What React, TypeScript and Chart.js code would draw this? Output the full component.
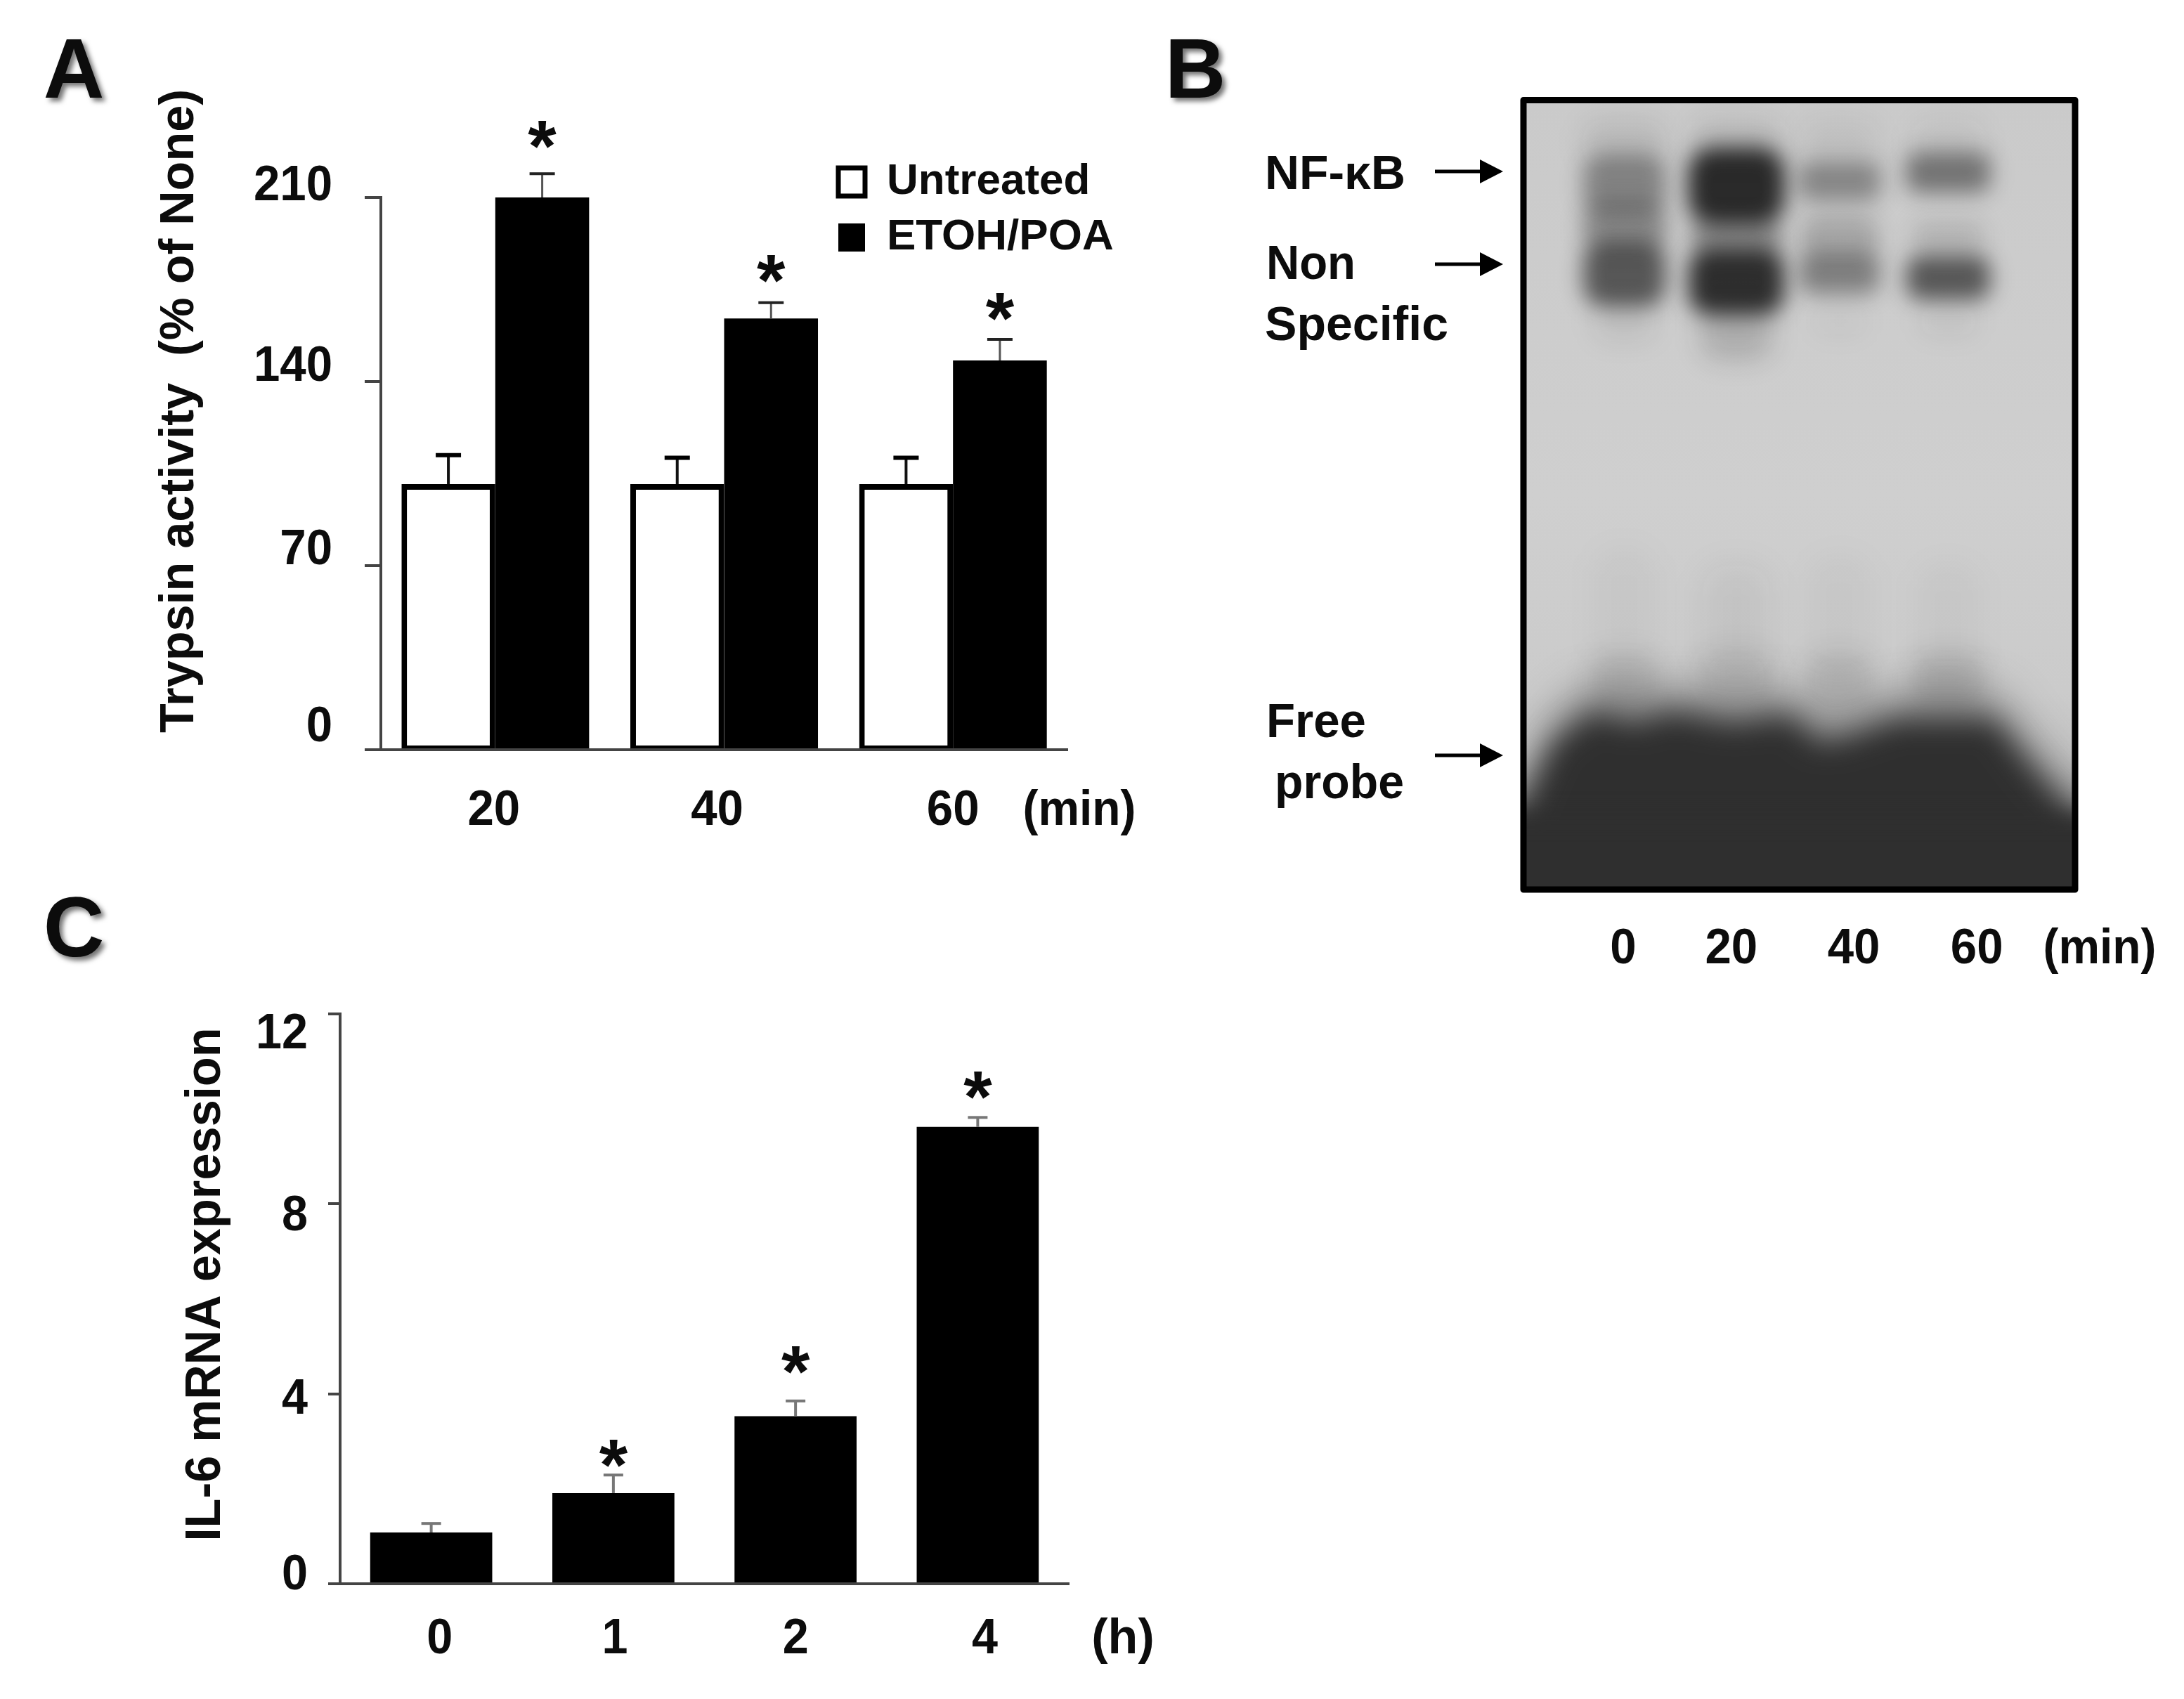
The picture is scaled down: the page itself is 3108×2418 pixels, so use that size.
import React, { useEffect, useRef } from "react";
import { Chart, registerables } from "chart.js";

Chart.register(...registerables);

const W = 3108;
const H = 2418;
const FONT = '"Liberation Sans", Arial, sans-serif';
const INK = "#0c0c0c";

// ---- Panel A data
const minutesA = ["20", "40", "60"];
const untreated = [101, 101, 101];
const untreatedTop = [112, 111, 111];
const etohPoa = [210, 164, 148];
const etohPoaTop = [219, 170, 156];
const starsA = [234, 183, 168.5];

// ---- Panel C data
const hoursC = ["0", "1", "2", "4"];
const il6 = [1.08, 1.91, 3.53, 9.62];
const il6Top = [1.27, 2.29, 3.85, 9.82];
const starsC = [null, 2.74, 4.71, 10.5];

// ---- Panel B data (gel, in percent of the frame)
const gelMinutes = ["0", "20", "40", "60"];
const gelTickPos = [17.7, 37.3, 59.5, 81.8];
const laneX = [18.3, 38.6, 57.3, 77];
const nfY = [10.7, 10.9, 10.3, 9.2];
const nfW = [15, 17.6, 15, 15.4];
const nfH = [7.6, 9.8, 5, 5.2];
const nfA = [0.38, 0.86, 0.36, 0.46];
const nsY = [22, 23, 22, 22.5];
const nsW = [15, 17.4, 14.6, 15.2];
const nsH = [8.4, 8.4, 5.2, 5.6];
const nsA = [0.62, 0.84, 0.4, 0.62];
const midY = [16, 17.4, 17.6, 17.4];
const midW = [15, 16, 14, 13];
const midH = [6, 5.5, 6, 4.5];
const midA = [0.34, 0.34, 0.2, 0.12];
const tailY = [28, 29.2, 28, 28];
const tailW = [11, 13, 9, 10];
const tailH = [5, 7.5, 3.5, 3.5];
const tailA = [0.07, 0.17, 0.04, 0.06];
const wellY = [5.5, 5.5, 5.5, 5.5];
const wellW = [15, 16, 14, 13];
const wellH = [6, 6, 6, 6];
const wellA = [0.09, 0.1, 0.06, 0.05];
const smearY = [64, 66, 65, 66];
const smearW = [10, 12, 10, 10];
const smearH = [14, 14, 14, 14];
const smearA = [0.03, 0.05, 0.03, 0.03];
const haloY = [73.5, 73, 73.5, 73.5];
const haloW = [12, 13, 12, 13];
const haloH = [7, 7, 7, 7];
const haloA = [0.13, 0.1, 0.13, 0.14];
const probeFrontX = [0, 5.3, 12.6, 20, 27, 38, 48, 54, 60, 68, 77, 85.3, 91.3, 100];
const probeFrontY = [90, 81.6, 77.5, 79, 77.5, 79, 78, 81.5, 80.5, 78.5, 78.5, 78.5, 84, 91];

// ---- Free text
const panelLetters = [
  { t: "A", x: 105, y: 97 },
  { t: "B", x: 1701, y: 97 },
  { t: "C", x: 105, y: 1319 },
];
const gelNotes = [
  { t: "NF-κB", x0: 1798, x1: 1998, y: 245 },
  { t: "Non", x0: 1800, x1: 1927, y: 374 },
  { t: "Specific", x0: 1798, x1: 2059, y: 466 },
  { t: "Free", x0: 1800, x1: 1942, y: 1026 },
  { t: "probe", x0: 1812, x1: 1996, y: 1118 },
];
const gelArrowY = [244, 376, 1075];

function put(
  ctx: CanvasRenderingContext2D,
  text: string,
  o: { x: number; y: number; size: number; sx?: number; align?: string; rotate?: number; width?: number; shadow?: boolean },
) {
  ctx.save();
  ctx.font = `bold ${o.size}px ${FONT}`;
  ctx.fillStyle = INK;
  ctx.textAlign = "left";
  ctx.textBaseline = "alphabetic";
  if (o.shadow) {
    ctx.shadowColor = "rgba(0,0,0,0.55)";
    ctx.shadowBlur = 7;
    ctx.shadowOffsetX = 5;
    ctx.shadowOffsetY = 5;
  }
  const m = ctx.measureText(text);
  const scale = o.width ? o.width / m.width : o.sx ?? 1;
  const dy = (m.actualBoundingBoxAscent - m.actualBoundingBoxDescent) / 2;
  const dx = o.align === "right" ? -m.width : o.align === "left" ? 0 : -m.width / 2;
  ctx.translate(o.x, o.y);
  if (o.rotate) ctx.rotate(o.rotate);
  ctx.scale(scale, 1);
  ctx.fillText(text, dx, dy);
  ctx.restore();
}

function place(left: number, top: number, right: number, bottom: number) {
  return {
    padding: { left: 0, top, right: W - right, bottom: 0 },
    yFit: (s: any) => { s.width = left; },
    xFit: (s: any) => { s.height = H - bottom; },
  };
}

const errorPlugin = {
  id: "errorsAndStars",
  afterDatasetsDraw(chart: any) {
    const ctx = chart.ctx;
    const y = chart.scales.y;
    chart.data.datasets.forEach((ds: any, i: number) => {
      const meta = chart.getDatasetMeta(i);
      meta.data.forEach((el: any, j: number) => {
        const top = y.getPixelForValue(ds.errorTop[j]);
        ctx.save();
        ctx.strokeStyle = ds.errorColor;
        ctx.lineWidth = ds.errorStem;
        ctx.beginPath();
        ctx.moveTo(el.x, el.y);
        ctx.lineTo(el.x, top);
        ctx.stroke();
        ctx.strokeStyle = ds.capColor;
        ctx.lineWidth = ds.capWidth;
        ctx.beginPath();
        ctx.moveTo(el.x - ds.capHalf, top);
        ctx.lineTo(el.x + ds.capHalf, top);
        ctx.stroke();
        ctx.restore();
        const s = ds.stars && ds.stars[j];
        if (s != null) put(ctx, "*", { x: el.x, y: y.getPixelForValue(s), size: 104 });
      });
    });
  },
};

function axisTextPlugin(cfg: {
  size: number;
  sx: number;
  yRight: number;
  yShift: number[];
  xY: number;
  xShift: number[];
  extra: { t: string; x: number; y: number; size: number; sx?: number; width?: number; rotate?: number }[];
}) {
  return {
    id: "axisText",
    afterDraw(chart: any) {
      const ctx = chart.ctx;
      const { x, y } = chart.scales;
      y.ticks.forEach((tk: any, i: number) => {
        put(ctx, String(tk.label), {
          x: cfg.yRight,
          y: y.getPixelForTick(i) + cfg.yShift[i],
          size: cfg.size,
          sx: cfg.sx,
          align: "right",
        });
      });
      x.ticks.forEach((tk: any, i: number) => {
        put(ctx, String(tk.label), {
          x: x.getPixelForTick(i) + cfg.xShift[i],
          y: cfg.xY,
          size: cfg.size,
          sx: cfg.sx,
        });
      });
      cfg.extra.forEach((e) => put(ctx, e.t, e));
    },
  };
}

const legendPlacement = {
  id: "legendPlacement",
  beforeDraw(chart: any) {
    const l = chart.legend;
    l.left = 1176;
    l.right = 1800;
    l.top = 211;
    l.bottom = 600;
    l.width = 624;
    l.height = 389;
  },
};

function axes(p: any, max: number, step: number, tick: number) {
  return {
    x: {
      afterFit: p.xFit,
      grid: { display: false },
      border: { display: true, color: "#444", width: 4 },
      ticks: { display: false },
    },
    y: {
      min: 0,
      max,
      afterFit: p.yFit,
      grid: { drawOnChartArea: false, drawTicks: true, tickLength: tick, color: "#444", lineWidth: 4 },
      border: { display: true, color: "#444", width: 4 },
      ticks: { display: false, stepSize: step },
    },
  };
}

function makeA(canvas: HTMLCanvasElement) {
  const p = place(542, 281, 1519, 1067);
  return new Chart(canvas, {
    type: "bar",
    data: {
      labels: minutesA,
      datasets: [
        {
          label: "Untreated",
          data: untreated,
          backgroundColor: "#ffffff",
          borderColor: "#000000",
          borderWidth: { top: 8, left: 8, right: 8, bottom: 4 },
          borderSkipped: false,
          categoryPercentage: 0.82,
          barPercentage: 1,
          errorTop: untreatedTop,
          errorColor: "#111",
          errorStem: 4,
          capColor: "#000",
          capWidth: 6,
          capHalf: 18,
        },
        {
          label: "ETOH/POA",
          data: etohPoa,
          backgroundColor: "#000000",
          borderColor: "#000000",
          borderWidth: 0,
          categoryPercentage: 0.82,
          barPercentage: 1,
          errorTop: etohPoaTop,
          errorColor: "#555",
          errorStem: 3,
          capColor: "#222",
          capWidth: 4,
          capHalf: 18,
          stars: starsA,
        },
      ] as any,
    },
    options: {
      animation: false,
      responsive: false,
      maintainAspectRatio: false,
      devicePixelRatio: 1,
      events: [],
      layout: { padding: p.padding },
      scales: axes(p, 210, 70, 23) as any,
      plugins: {
        tooltip: { enabled: false },
        title: { display: false },
        legend: {
          display: true,
          position: "chartArea" as any,
          align: "start",
          labels: {
            boxWidth: 38,
            boxHeight: 40,
            padding: 17,
            color: INK,
            font: { family: FONT, size: 62, weight: "bold" },
          },
        },
      },
    },
    plugins: [
      legendPlacement,
      errorPlugin,
      axisTextPlugin({
        size: 70,
        sx: 0.96,
        yRight: 473,
        yShift: [-37, -27, -26, -21],
        xY: 1149,
        xShift: [-2, -10, 0],
        extra: [
          { t: "Trypsin activity  (% of None)", x: 257, y: 585, size: 68, width: 916, rotate: -Math.PI / 2 },
          { t: "(min)", x: 1536, y: 1156, size: 70, sx: 0.94 },
        ],
      }),
    ] as any,
  } as any);
}

function makeC(canvas: HTMLCanvasElement) {
  const p = place(484, 1443, 1521, 2254);
  return new Chart(canvas, {
    type: "bar",
    data: {
      labels: hoursC,
      datasets: [
        {
          label: "IL-6 mRNA expression",
          data: il6,
          backgroundColor: "#000000",
          borderWidth: 0,
          categoryPercentage: 0.67,
          barPercentage: 1,
          errorTop: il6Top,
          errorColor: "#777",
          errorStem: 4,
          capColor: "#777",
          capWidth: 4,
          capHalf: 14,
          stars: starsC,
        },
      ] as any,
    },
    options: {
      animation: false,
      responsive: false,
      maintainAspectRatio: false,
      devicePixelRatio: 1,
      events: [],
      layout: { padding: p.padding },
      scales: axes(p, 12, 4, 17) as any,
      plugins: { legend: { display: false }, tooltip: { enabled: false } },
    },
    plugins: [
      errorPlugin,
      axisTextPlugin({
        size: 70,
        sx: 0.95,
        yRight: 438,
        yShift: [-17, 4, 13, 24],
        xY: 2328,
        xShift: [12, 2, 0, 10],
        extra: [
          { t: "IL-6 mRNA expression", x: 295, y: 1828, size: 70, width: 731, rotate: -Math.PI / 2 },
          { t: "(h)", x: 1598, y: 2335, size: 70 },
        ],
      }),
    ] as any,
  } as any);
}

const gelPlugin = {
  id: "gel",
  beforeDatasetsDraw(chart: any) {
    const ctx = chart.ctx as CanvasRenderingContext2D;
    const { x, y } = chart.scales;
    const a = chart.chartArea;
    ctx.save();
    ctx.beginPath();
    ctx.rect(a.left, a.top, a.right - a.left, a.bottom - a.top);
    ctx.clip();
    const g = ctx.createLinearGradient(0, a.top, 0, a.bottom);
    g.addColorStop(0, "#cacaca");
    g.addColorStop(0.5, "#cfcfcf");
    g.addColorStop(0.75, "#cbcbcb");
    g.addColorStop(1, "#b8b8b8");
    ctx.fillStyle = g;
    ctx.fillRect(a.left, a.top, a.right - a.left, a.bottom - a.top);

    chart.data.datasets.forEach((ds: any, i: number) => {
      const meta = chart.getDatasetMeta(i);
      meta.data.forEach((el: any, j: number) => {
        const w = x.getPixelForValue(ds.bandW[j]) - x.getPixelForValue(0);
        const h = Math.abs(y.getPixelForValue(ds.bandH[j]) - y.getPixelForValue(0));
        ctx.filter = `blur(${ds.blur}px)`;
        ctx.fillStyle = `rgba(15,15,15,${ds.bandA[j]})`;
        ctx.beginPath();
        ctx.roundRect(el.x - w / 2, el.y - h / 2, w, h, Math.min(w, h) / 3);
        ctx.fill();
      });
    });

    const poly = (lift: number) => {
      ctx.beginPath();
      probeFrontX.forEach((v, i) => {
        const px = x.getPixelForValue(v);
        const py = y.getPixelForValue(probeFrontY[i] - lift);
        if (i === 0) ctx.moveTo(px, py);
        else ctx.lineTo(px, py);
      });
      ctx.lineTo(x.getPixelForValue(130), y.getPixelForValue(91 - lift));
      ctx.lineTo(x.getPixelForValue(130), y.getPixelForValue(130));
      ctx.lineTo(x.getPixelForValue(-30), y.getPixelForValue(130));
      ctx.lineTo(x.getPixelForValue(-30), y.getPixelForValue(90 - lift));
      ctx.closePath();
    };
    ctx.filter = "blur(30px)";
    ctx.fillStyle = "rgba(50,50,50,0.45)";
    poly(3.5);
    ctx.fill();
    ctx.filter = "blur(20px)";
    ctx.fillStyle = "#2f2f2f";
    poly(0);
    ctx.fill();
    ctx.filter = "blur(16px)";
    ctx.fillStyle = "#2f2f2f";
    ctx.fillRect(a.left - 60, y.getPixelForValue(91), a.right - a.left + 120, a.bottom - y.getPixelForValue(91) + 60);
    ctx.filter = "none";
    ctx.restore();
  },
  afterDraw(chart: any) {
    const ctx = chart.ctx as CanvasRenderingContext2D;
    const { x } = chart.scales;
    const a = chart.chartArea;
    ctx.save();
    ctx.strokeStyle = "#000";
    ctx.lineWidth = 9;
    ctx.lineJoin = "round";
    ctx.strokeRect(a.left, a.top, a.right - a.left, a.bottom - a.top);
    gelArrowY.forEach((yy) => {
      ctx.lineWidth = 5;
      ctx.beginPath();
      ctx.moveTo(2042, yy);
      ctx.lineTo(2110, yy);
      ctx.stroke();
      ctx.fillStyle = "#000";
      ctx.beginPath();
      ctx.moveTo(2139, yy);
      ctx.lineTo(2106, yy - 17);
      ctx.lineTo(2106, yy + 17);
      ctx.closePath();
      ctx.fill();
    });
    ctx.restore();
    gelMinutes.forEach((t, i) => put(ctx, t, { x: x.getPixelForValue(gelTickPos[i]) + 3, y: 1346, size: 70, sx: 0.96 }));
    put(ctx, "(min)", { x: 2988, y: 1353, size: 70, sx: 0.94 });
    gelNotes.forEach((n) => put(ctx, n.t, { x: n.x0 + 2, y: n.y, size: 68, align: "left", width: n.x1 - n.x0 }));
    panelLetters.forEach((l) => put(ctx, l.t, { x: l.x, y: l.y, size: 120, shadow: true }));
  },
};

function bandSet(label: string, ys: number[], w: number[], h: number[], al: number[], blur: number) {
  return {
    label,
    data: laneX.map((x, i) => ({ x, y: ys[i] })),
    pointRadius: 0,
    showLine: false,
    bandW: w,
    bandH: h,
    bandA: al,
    blur,
  };
}

function makeB(canvas: HTMLCanvasElement) {
  return new Chart(canvas, {
    type: "scatter",
    data: {
      datasets: [
        bandSet("wells", wellY, wellW, wellH, wellA, 18),
        bandSet("smear", smearY, smearW, smearH, smearA, 24),
        bandSet("halo", haloY, haloW, haloH, haloA, 18),
        bandSet("tail", tailY, tailW, tailH, tailA, 18),
        bandSet("between", midY, midW, midH, midA, 15),
        bandSet("NF-κB", nfY, nfW, nfH, nfA, 15),
        bandSet("Non Specific", nsY, nsW, nsH, nsA, 15),
      ] as any,
    },
    options: {
      animation: false,
      responsive: false,
      maintainAspectRatio: false,
      devicePixelRatio: 1,
      events: [],
      layout: { padding: { left: 2168, top: 142.5, right: W - 2953, bottom: H - 1266 } },
      scales: {
        x: { type: "linear", min: 0, max: 100, display: false },
        y: { type: "linear", min: 0, max: 100, reverse: true, display: false },
      },
      plugins: { legend: { display: false }, tooltip: { enabled: false } },
    },
    plugins: [gelPlugin] as any,
  } as any);
}

export default function App() {
  const a = useRef<HTMLCanvasElement>(null);
  const b = useRef<HTMLCanvasElement>(null);
  const c = useRef<HTMLCanvasElement>(null);
  useEffect(() => {
    const charts = [makeB(b.current!), makeA(a.current!), makeC(c.current!)];
    return () => charts.forEach((ch) => ch.destroy());
  }, []);
  const st: React.CSSProperties = { position: "absolute", left: 0, top: 0, display: "block" };
  return (
    <div style={{ position: "absolute", left: 0, top: 0, width: W, height: H, background: "#fff", overflow: "hidden" }}>
      <canvas ref={b} width={W} height={H} style={st} />
      <canvas ref={a} width={W} height={H} style={st} />
      <canvas ref={c} width={W} height={H} style={st} />
    </div>
  );
}
